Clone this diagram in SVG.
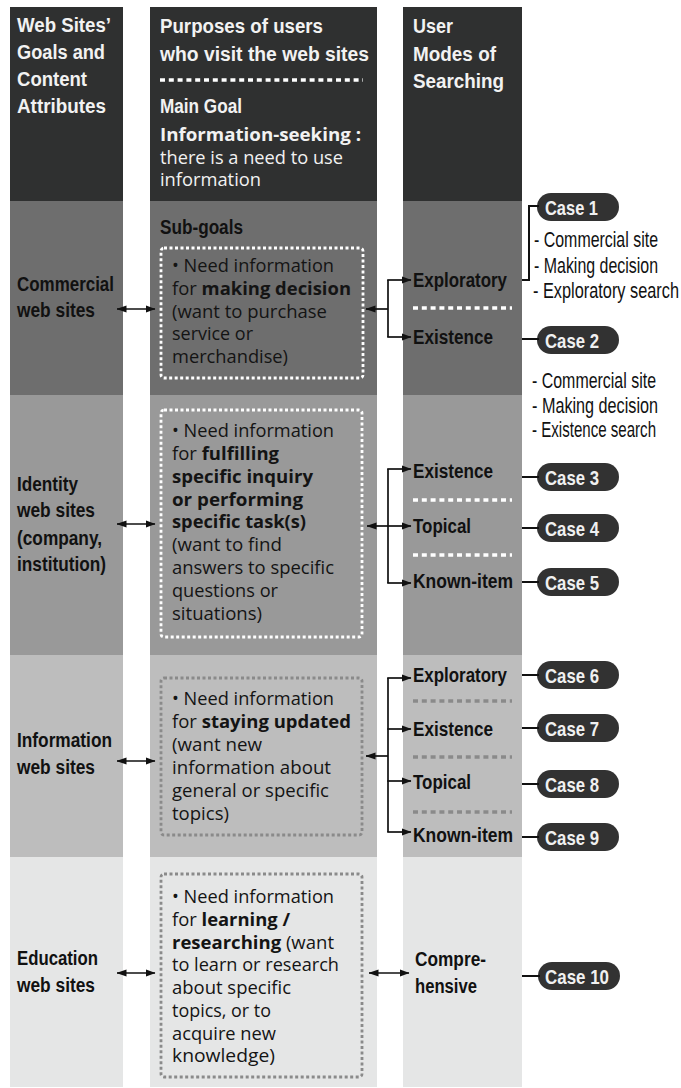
<svg xmlns="http://www.w3.org/2000/svg" width="681" height="1088" viewBox="0 0 681 1088">
  <defs>
    <style>
      .cond { font-family: "Liberation Sans Narrow", "Liberation Sans", Arial, sans-serif; font-weight: bold; }
      .hd { font-size: 20px; fill: #f2f2f2; }
      .lbl { font-size: 19.5px; fill: #111; }
      .mode { font-size: 20px; fill: #111; }
      .hum { font-family: "Open Sans", "Noto Sans", sans-serif; font-size: 17.5px; fill: #141414; }
      .humw { font-family: "Open Sans", "Noto Sans", sans-serif; font-size: 17.5px; fill: #f2f2f2; }
      .b { font-weight: 700; }
      .desc { font-family: "Liberation Sans Narrow", "Liberation Sans", Arial, sans-serif; font-size: 21.5px; fill: #111; }
      .pill { fill: #323232; }
      .pilltxt { font-family: "Liberation Sans Narrow", "Liberation Sans", Arial, sans-serif; font-weight: bold; font-size: 20.5px; fill: #f0f0f0; }
      .boxw { fill: none; stroke: #ffffff; stroke-width: 2.8; stroke-dasharray: 3 2.5; }
      .boxg { fill: none; stroke: #8a8a8a; stroke-width: 2.8; stroke-dasharray: 3 2.5; }
      .sepw { stroke: #ffffff; stroke-width: 3.5; stroke-dasharray: 5 3.8; }
      .sepg { stroke: #8a8a8a; stroke-width: 3.5; stroke-dasharray: 5 3.8; }
      .line { fill: none; stroke: #111; stroke-width: 1.7; }
      .arr { fill: none; stroke: #111; stroke-width: 1.7; marker-end: url(#ah); }
      .dbl { fill: none; stroke: #111; stroke-width: 1.7; marker-start: url(#ah); marker-end: url(#ah); }
      .link { fill: none; stroke: #111; stroke-width: 2; }
    </style>
    <marker id="ah" markerWidth="10" markerHeight="8" refX="9.5" refY="4" orient="auto-start-reverse" markerUnits="userSpaceOnUse">
      <path d="M0,0.4 L10,4 L0,7.6 z" fill="#111"/>
    </marker>
  </defs>

  <rect width="681" height="1088" fill="#ffffff"/>

  <!-- column bands: header, commercial, identity, information, education -->
  <g id="bands">
    <rect x="10" y="7" width="113" height="194" fill="#2f3030"/>
    <rect x="150" y="7" width="227" height="194" fill="#2f3030"/>
    <rect x="403" y="7" width="119" height="194" fill="#2f3030"/>

    <rect x="10" y="201" width="113" height="194" fill="#6e6e6e"/>
    <rect x="150" y="201" width="227" height="194" fill="#6e6e6e"/>
    <rect x="403" y="201" width="119" height="194" fill="#6e6e6e"/>

    <rect x="10" y="395" width="113" height="260" fill="#999999"/>
    <rect x="150" y="395" width="227" height="260" fill="#999999"/>
    <rect x="403" y="395" width="119" height="260" fill="#999999"/>

    <rect x="10" y="655" width="113" height="202" fill="#bdbdbd"/>
    <rect x="150" y="655" width="227" height="202" fill="#bdbdbd"/>
    <rect x="403" y="655" width="119" height="202" fill="#bdbdbd"/>

    <rect x="10" y="857" width="113" height="230" fill="#e5e6e6"/>
    <rect x="150" y="857" width="227" height="230" fill="#e5e6e6"/>
    <rect x="403" y="857" width="119" height="230" fill="#e5e6e6"/>
  </g>

  <!-- header cells -->
  <g id="head-sites">
    <text class="cond hd" x="17" y="32" textLength="94" lengthAdjust="spacingAndGlyphs">Web Sites’</text>
    <text class="cond hd" x="17" y="59" textLength="88" lengthAdjust="spacingAndGlyphs">Goals and</text>
    <text class="cond hd" x="17" y="86" textLength="70" lengthAdjust="spacingAndGlyphs">Content</text>
    <text class="cond hd" x="17" y="113" textLength="89" lengthAdjust="spacingAndGlyphs">Attributes</text>
  </g>
  <g id="head-purposes">
    <text class="cond hd" x="160" y="33" textLength="163" lengthAdjust="spacingAndGlyphs">Purposes of users</text>
    <text class="cond hd" x="160" y="61" textLength="209" lengthAdjust="spacingAndGlyphs">who visit the web sites</text>
    <line class="sepw" x1="160" y1="80" x2="363" y2="80" stroke-dasharray="4.5 4"/>
    <text class="cond hd" x="160" y="113" font-size="17.5" textLength="82" lengthAdjust="spacingAndGlyphs">Main Goal</text>
    <text class="humw b" x="160" y="141" font-size="18" textLength="201" lengthAdjust="spacingAndGlyphs">Information-seeking :</text>
    <text class="humw" x="160" y="164" textLength="183" lengthAdjust="spacingAndGlyphs">there is a need to use</text>
    <text class="humw" x="160" y="186" textLength="101" lengthAdjust="spacingAndGlyphs">information</text>
  </g>
  <g id="head-modes">
    <text class="cond hd" x="413" y="33" textLength="40" lengthAdjust="spacingAndGlyphs">User</text>
    <text class="cond hd" x="413" y="61" textLength="83" lengthAdjust="spacingAndGlyphs">Modes of</text>
    <text class="cond hd" x="413" y="88" textLength="91" lengthAdjust="spacingAndGlyphs">Searching</text>
  </g>

  <!-- site types -->
  <g id="site-commercial">
    <text class="cond lbl" x="17" y="291" textLength="97" lengthAdjust="spacingAndGlyphs">Commercial</text>
    <text class="cond lbl" x="17" y="317" textLength="78" lengthAdjust="spacingAndGlyphs">web sites</text>
  </g>
  <g id="site-identity">
    <text class="cond lbl" x="17" y="491" textLength="61" lengthAdjust="spacingAndGlyphs">Identity</text>
    <text class="cond lbl" x="17" y="517" textLength="78" lengthAdjust="spacingAndGlyphs">web sites</text>
    <text class="cond lbl" x="17" y="545" textLength="85" lengthAdjust="spacingAndGlyphs">(company,</text>
    <text class="cond lbl" x="17" y="571" textLength="89" lengthAdjust="spacingAndGlyphs">institution)</text>
  </g>
  <g id="site-information">
    <text class="cond lbl" x="17" y="747" textLength="95" lengthAdjust="spacingAndGlyphs">Information</text>
    <text class="cond lbl" x="17" y="774" textLength="78" lengthAdjust="spacingAndGlyphs">web sites</text>
  </g>
  <g id="site-education">
    <text class="cond lbl" x="17" y="965" textLength="81" lengthAdjust="spacingAndGlyphs">Education</text>
    <text class="cond lbl" x="17" y="992" textLength="78" lengthAdjust="spacingAndGlyphs">web sites</text>
  </g>

  <!-- sub-goals -->
  <g id="goal-decision">
    <text class="cond lbl" x="160" y="234" font-size="18.5" textLength="83" lengthAdjust="spacingAndGlyphs">Sub-goals</text>
    <rect class="boxw" x="161" y="248" width="202" height="130" rx="3"/>
    <text class="hum" x="172" y="272" textLength="162" lengthAdjust="spacingAndGlyphs">• Need information</text>
    <text class="hum" x="172" y="295" textLength="179" lengthAdjust="spacingAndGlyphs">for <tspan class="b">making decision</tspan></text>
    <text class="hum" x="172" y="317.5" textLength="155" lengthAdjust="spacingAndGlyphs">(want to purchase</text>
    <text class="hum" x="172" y="340" textLength="81" lengthAdjust="spacingAndGlyphs">service or</text>
    <text class="hum" x="172" y="362.5" textLength="116" lengthAdjust="spacingAndGlyphs">merchandise)</text>
  </g>
  <g id="goal-inquiry">
    <rect class="boxw" x="161" y="410" width="201" height="227" rx="3"/>
    <text class="hum" x="172" y="437" textLength="162" lengthAdjust="spacingAndGlyphs">• Need information</text>
    <text class="hum" x="172" y="460" textLength="107" lengthAdjust="spacingAndGlyphs">for <tspan class="b">fulfilling</tspan></text>
    <text class="hum b" x="172" y="482.5" textLength="141" lengthAdjust="spacingAndGlyphs">specific inquiry</text>
    <text class="hum b" x="172" y="505.5" textLength="131" lengthAdjust="spacingAndGlyphs">or performing</text>
    <text class="hum b" x="172" y="528" textLength="134" lengthAdjust="spacingAndGlyphs">specific task(s)</text>
    <text class="hum" x="172" y="551" textLength="110" lengthAdjust="spacingAndGlyphs">(want to find</text>
    <text class="hum" x="172" y="574" textLength="162" lengthAdjust="spacingAndGlyphs">answers to specific</text>
    <text class="hum" x="172" y="596.5" textLength="106" lengthAdjust="spacingAndGlyphs">questions or</text>
    <text class="hum" x="172" y="619.5" textLength="90" lengthAdjust="spacingAndGlyphs">situations)</text>
  </g>
  <g id="goal-updated">
    <rect class="boxg" x="161" y="678" width="201" height="157" rx="3"/>
    <text class="hum" x="172" y="705" textLength="162" lengthAdjust="spacingAndGlyphs">• Need information</text>
    <text class="hum" x="172" y="728" textLength="179" lengthAdjust="spacingAndGlyphs">for <tspan class="b">staying updated</tspan></text>
    <text class="hum" x="172" y="750.5" textLength="90" lengthAdjust="spacingAndGlyphs">(want new</text>
    <text class="hum" x="172" y="773.5" textLength="159" lengthAdjust="spacingAndGlyphs">information about</text>
    <text class="hum" x="172" y="796.5" textLength="157" lengthAdjust="spacingAndGlyphs">general or specific</text>
    <text class="hum" x="172" y="819.5" textLength="57" lengthAdjust="spacingAndGlyphs">topics)</text>
  </g>
  <g id="goal-learning">
    <rect class="boxg" x="161" y="874" width="201" height="203" rx="3"/>
    <text class="hum" x="172" y="903" textLength="162" lengthAdjust="spacingAndGlyphs">• Need information</text>
    <text class="hum" x="172" y="926" textLength="118" lengthAdjust="spacingAndGlyphs">for <tspan class="b">learning /</tspan></text>
    <text class="hum" x="172" y="948.5" textLength="162" lengthAdjust="spacingAndGlyphs"><tspan class="b">researching</tspan> (want</text>
    <text class="hum" x="172" y="971" textLength="167" lengthAdjust="spacingAndGlyphs">to learn or research</text>
    <text class="hum" x="172" y="994" textLength="119" lengthAdjust="spacingAndGlyphs">about specific</text>
    <text class="hum" x="172" y="1017" textLength="99" lengthAdjust="spacingAndGlyphs">topics, or to</text>
    <text class="hum" x="172" y="1039.5" textLength="104" lengthAdjust="spacingAndGlyphs">acquire new</text>
    <text class="hum" x="172" y="1062" textLength="103" lengthAdjust="spacingAndGlyphs">knowledge)</text>
  </g>

  <!-- search modes -->
  <g id="modes-commercial">
    <text class="cond mode" x="413" y="287" textLength="94" lengthAdjust="spacingAndGlyphs">Exploratory</text>
    <line class="sepw" x1="413" y1="308" x2="512" y2="308"/>
    <text class="cond mode" x="413" y="344" textLength="80" lengthAdjust="spacingAndGlyphs">Existence</text>
  </g>
  <g id="modes-identity">
    <text class="cond mode" x="413" y="478" textLength="80" lengthAdjust="spacingAndGlyphs">Existence</text>
    <line class="sepw" x1="413" y1="500" x2="512" y2="500"/>
    <text class="cond mode" x="413" y="533" textLength="58" lengthAdjust="spacingAndGlyphs">Topical</text>
    <line class="sepw" x1="413" y1="555" x2="512" y2="555"/>
    <text class="cond mode" x="413" y="588" textLength="100" lengthAdjust="spacingAndGlyphs">Known-item</text>
  </g>
  <g id="modes-information">
    <text class="cond mode" x="413" y="682" textLength="94" lengthAdjust="spacingAndGlyphs">Exploratory</text>
    <line class="sepg" x1="413" y1="701" x2="512" y2="701"/>
    <text class="cond mode" x="413" y="736" textLength="80" lengthAdjust="spacingAndGlyphs">Existence</text>
    <line class="sepg" x1="413" y1="757" x2="512" y2="757"/>
    <text class="cond mode" x="413" y="789" textLength="58" lengthAdjust="spacingAndGlyphs">Topical</text>
    <line class="sepg" x1="413" y1="812" x2="512" y2="812"/>
    <text class="cond mode" x="413" y="842" textLength="100" lengthAdjust="spacingAndGlyphs">Known-item</text>
  </g>
  <g id="modes-education">
    <text class="cond mode" x="415" y="966" textLength="71" lengthAdjust="spacingAndGlyphs">Compre-</text>
    <text class="cond mode" x="415" y="993" textLength="62" lengthAdjust="spacingAndGlyphs">hensive</text>
  </g>

  <!-- cases; the description lines are narrowed with a horizontal scale -->
  <g id="case1">
    <rect class="pill" x="537" y="193" width="82" height="28" rx="14"/>
    <text class="pilltxt" x="545" y="214.5" textLength="53" lengthAdjust="spacingAndGlyphs">Case 1</text>
    <text class="desc" transform="translate(534 247) scale(0.74 1)" textLength="167.6" lengthAdjust="spacingAndGlyphs">- Commercial site</text>
    <text class="desc" transform="translate(534 273) scale(0.74 1)" textLength="167.6" lengthAdjust="spacingAndGlyphs">- Making decision</text>
    <text class="desc" transform="translate(533 298) scale(0.74 1)" textLength="197.3" lengthAdjust="spacingAndGlyphs">- Exploratory search</text>
  </g>
  <g id="case2">
    <rect class="pill" x="537" y="326" width="82" height="28" rx="14"/>
    <text class="pilltxt" x="545" y="347.5" textLength="54" lengthAdjust="spacingAndGlyphs">Case 2</text>
    <text class="desc" transform="translate(532 388) scale(0.74 1)" textLength="167.6" lengthAdjust="spacingAndGlyphs">- Commercial site</text>
    <text class="desc" transform="translate(532 413) scale(0.74 1)" textLength="170.3" lengthAdjust="spacingAndGlyphs">- Making decision</text>
    <text class="desc" transform="translate(532 437) scale(0.74 1)" textLength="167.6" lengthAdjust="spacingAndGlyphs">- Existence search</text>
  </g>
  <g id="case3">
    <rect class="pill" x="537" y="463" width="82" height="28" rx="14"/>
    <text class="pilltxt" x="545" y="484.5" textLength="54" lengthAdjust="spacingAndGlyphs">Case 3</text>
  </g>
  <g id="case4">
    <rect class="pill" x="537" y="514" width="82" height="28" rx="14"/>
    <text class="pilltxt" x="545" y="535.5" textLength="54" lengthAdjust="spacingAndGlyphs">Case 4</text>
  </g>
  <g id="case5">
    <rect class="pill" x="537" y="568" width="82" height="28" rx="14"/>
    <text class="pilltxt" x="545" y="589.5" textLength="54" lengthAdjust="spacingAndGlyphs">Case 5</text>
  </g>
  <g id="case6">
    <rect class="pill" x="537" y="661" width="82" height="28" rx="14"/>
    <text class="pilltxt" x="545" y="682.5" textLength="54" lengthAdjust="spacingAndGlyphs">Case 6</text>
  </g>
  <g id="case7">
    <rect class="pill" x="537" y="714" width="82" height="28" rx="14"/>
    <text class="pilltxt" x="545" y="735.5" textLength="54" lengthAdjust="spacingAndGlyphs">Case 7</text>
  </g>
  <g id="case8">
    <rect class="pill" x="537" y="770" width="82" height="28" rx="14"/>
    <text class="pilltxt" x="545" y="791.5" textLength="54" lengthAdjust="spacingAndGlyphs">Case 8</text>
  </g>
  <g id="case9">
    <rect class="pill" x="537" y="823" width="82" height="28" rx="14"/>
    <text class="pilltxt" x="545" y="844.5" textLength="54" lengthAdjust="spacingAndGlyphs">Case 9</text>
  </g>
  <g id="case10">
    <rect class="pill" x="538" y="962" width="82" height="28" rx="14"/>
    <text class="pilltxt" x="545" y="983.5" textLength="64" lengthAdjust="spacingAndGlyphs">Case 10</text>
  </g>

  <!-- connectors -->
  <g id="connectors">
    <!-- site type <-> purpose -->
    <line class="dbl" x1="117" y1="309" x2="155" y2="309"/>
    <line class="dbl" x1="117" y1="524" x2="155" y2="524"/>
    <line class="dbl" x1="117" y1="761" x2="155" y2="761"/>
    <line class="dbl" x1="117" y1="973" x2="155" y2="973"/>

    <!-- purpose <-> search modes: commercial -->
    <line class="arr" x1="388" y1="309" x2="366" y2="309"/>
    <line class="line" x1="388" y1="280" x2="388" y2="337"/>
    <line class="arr" x1="387.2" y1="280" x2="411" y2="280"/>
    <line class="arr" x1="387.2" y1="337" x2="411" y2="337"/>

    <!-- identity -->
    <line class="arr" x1="388" y1="526" x2="367" y2="526"/>
    <line class="line" x1="388" y1="469" x2="388" y2="583"/>
    <line class="arr" x1="387.2" y1="469" x2="411" y2="469"/>
    <line class="arr" x1="387.2" y1="526" x2="411" y2="526"/>
    <line class="arr" x1="387.2" y1="583" x2="411" y2="583"/>

    <!-- information -->
    <line class="arr" x1="388" y1="756" x2="366" y2="756"/>
    <line class="line" x1="388" y1="678" x2="388" y2="832"/>
    <line class="arr" x1="387.2" y1="678" x2="411" y2="678"/>
    <line class="arr" x1="387.2" y1="729" x2="411" y2="729"/>
    <line class="arr" x1="387.2" y1="781" x2="411" y2="781"/>
    <line class="arr" x1="387.2" y1="832" x2="411" y2="832"/>

    <!-- education -->
    <line class="dbl" x1="369" y1="973" x2="409" y2="973"/>

    <!-- modes -> cases -->
    <path class="link" d="M522,280 H529 V206 H539"/>
    <line class="link" x1="522" y1="339" x2="539" y2="339"/>
    <line class="link" x1="522" y1="477" x2="539" y2="477"/>
    <line class="link" x1="522" y1="528" x2="539" y2="528"/>
    <line class="link" x1="522" y1="582" x2="539" y2="582"/>
    <line class="link" x1="522" y1="675" x2="539" y2="675"/>
    <line class="link" x1="522" y1="728" x2="539" y2="728"/>
    <line class="link" x1="522" y1="784" x2="539" y2="784"/>
    <line class="link" x1="522" y1="837" x2="539" y2="837"/>
    <line class="link" x1="522" y1="976" x2="540" y2="976"/>
  </g>
</svg>
